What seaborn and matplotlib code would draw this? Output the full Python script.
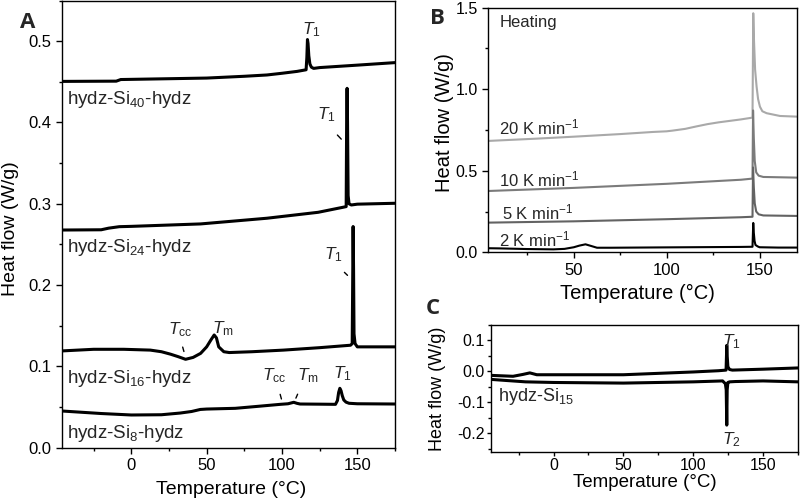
import numpy as np
import pandas as pd
import matplotlib
matplotlib.use("Agg")
import matplotlib.pyplot as plt
import seaborn as sns
from matplotlib.ticker import MultipleLocator, FormatStrFormatter

# ---------------- Panel A data (heat flow, W/g vs temperature, °C) ----------------
a_si40_T = [-46, -10, -7, 25, 50, 75, 90, 100, 110, 116.0, 116.5, 116.9, 117.3, 117.8, 118.5, 119.5, 121, 125, 150, 175]
a_si40_v = [0.4505, 0.4508, 0.4528, 0.4538, 0.4546, 0.4568, 0.4584, 0.4605, 0.4628, 0.4648, 0.480, 0.502, 0.497,
            0.482, 0.472, 0.468, 0.4665, 0.4675, 0.4705, 0.4736]

a_si24_T = [-46, -20, -15, -8, 0, 46, 90, 124, 140, 142.6, 142.9, 143.2, 143.5, 143.9, 144.5, 146, 150, 175]
a_si24_v = [0.2677, 0.2680, 0.2700, 0.2718, 0.2722, 0.2752, 0.2822, 0.2895, 0.2955, 0.2965, 0.40, 0.442, 0.40,
            0.31, 0.300, 0.2985, 0.2995, 0.3006]

a_si16_T = [-46, -25, -5, 12.6, 20, 26, 31, 36, 41, 46, 50, 53, 55, 56.5, 58, 61.4, 65, 80, 101, 125, 145.5, 146.6,
            146.9, 147.2, 147.5, 147.8, 148.5, 150, 175]
a_si16_v = [0.119, 0.121, 0.121, 0.120, 0.118, 0.115, 0.112, 0.1087, 0.111, 0.116, 0.124, 0.133, 0.1386, 0.135,
            0.124, 0.118, 0.117, 0.118, 0.120, 0.123, 0.126, 0.128, 0.20, 0.272, 0.22, 0.14, 0.128, 0.124, 0.124]

a_si8_T = [-46, -20, 0, 20, 32.5, 40, 45.8, 50, 69, 85, 98.9, 104, 107.8, 110, 112, 125, 135.5, 136.8, 137.6, 138.4,
           139.2, 140, 141, 142.5, 144.5, 150, 175]
a_si8_v = [0.0451, 0.042, 0.0402, 0.0405, 0.0426, 0.0445, 0.047, 0.0475, 0.0484, 0.051, 0.0533, 0.054, 0.0558,
           0.0545, 0.0537, 0.0535, 0.0533, 0.058, 0.068, 0.073, 0.070, 0.064, 0.0587, 0.056, 0.0546, 0.054, 0.0537]

a_labels = [r"hydz-Si$_{40}$-hydz", r"hydz-Si$_{24}$-hydz", r"hydz-Si$_{16}$-hydz", r"hydz-Si$_{8}$-hydz"]
a_label_pos = [(-43, 0.428), (-43, 0.246), (-43, 0.085), (-43, 0.018)]

# ---------------- Panel B data ----------------
b2_T = [4, 10, 25, 39, 45, 50, 53, 56.3, 59, 62.5, 70, 96.6, 140, 146.2, 146.6, 146.9, 147.3, 147.8, 149, 150, 160, 170]
b2_v = [0.025, 0.024, 0.020, 0.018, 0.021, 0.031, 0.041, 0.049, 0.040, 0.028, 0.028, 0.030, 0.033, 0.034, 0.18,
        0.12, 0.07, 0.045, 0.036, 0.031, 0.029, 0.029]

b5_T = [4, 50, 100, 140, 146.2, 146.5, 146.9, 147.4, 148.2, 149.5, 152, 170]
b5_v = [0.182, 0.190, 0.203, 0.215, 0.218, 0.52, 0.40, 0.30, 0.25, 0.233, 0.226, 0.223]

b10_T = [4, 50, 100, 140, 146.2, 146.5, 146.9, 147.4, 148.2, 149.5, 152, 170]
b10_v = [0.376, 0.395, 0.420, 0.445, 0.452, 0.87, 0.70, 0.56, 0.49, 0.47, 0.462, 0.458]

b20_T = [4, 30, 50, 75, 92.6, 100, 103, 110, 116, 122, 128, 140, 146.2, 146.6, 147.0, 147.6, 148.4, 149.2, 150.2,
         151.5, 153.8, 161, 170]
b20_v = [0.683, 0.697, 0.709, 0.725, 0.738, 0.742, 0.746, 0.757, 0.772, 0.786, 0.797, 0.815, 0.826, 1.466, 1.30,
         1.12, 1.016, 0.94, 0.893, 0.865, 0.853, 0.836, 0.832]

b_rate_labels = [r"20 K min$^{-1}$", r"10 K min$^{-1}$", r"5 K min$^{-1}$", r"2 K min$^{-1}$"]
b_rate_pos = [(10, 0.765), (10, 0.445), (11.5, 0.245), (10, 0.08)]

# ---------------- Panel C data ----------------
c_heat_T = [-45, -29, -22, -17, -12, 0, 50, 100, 118, 123.5, 123.8, 124.0, 124.3, 124.8, 126, 128, 150, 175]
c_heat_v = [-0.013, -0.016, -0.010, -0.005, -0.011, -0.011, -0.011, -0.002, 0.002, 0.004, 0.05, 0.084, 0.05,
            0.015, 0.006, 0.004, 0.007, 0.011]

c_cool_T = [-45, -20, 0, 50, 100, 121, 123, 123.6, 124.0, 124.3, 124.8, 126, 130, 150, 175]
c_cool_v = [-0.026, -0.034, -0.036, -0.038, -0.034, -0.031, -0.040, -0.06, -0.174, -0.06, -0.036, -0.034,
            -0.033, -0.031, -0.034]

# ---------------- Style ----------------
sns.set_theme(style="ticks")
plt.rcParams.update({
    "font.family": ["Liberation Sans", "DejaVu Sans"],
    "mathtext.fontset": "custom",
    "mathtext.rm": "Liberation Sans",
    "mathtext.it": "Liberation Sans:italic",
    "mathtext.bf": "Liberation Sans:bold",
    "axes.unicode_minus": False,
    "axes.linewidth": 1.0,
    "axes.edgecolor": "black",
    "xtick.direction": "out",
    "ytick.direction": "out",
    "xtick.major.size": 4,
    "ytick.major.size": 4,
    "xtick.minor.size": 2.5,
    "ytick.minor.size": 2.5,
    "xtick.major.width": 1.0,
    "ytick.major.width": 1.0,
    "xtick.minor.width": 1.0,
    "ytick.minor.width": 1.0,
    "xtick.color": "black",
    "ytick.color": "black",
    "xtick.labelsize": 12,
    "ytick.labelsize": 12,
    "axes.labelcolor": "black",
})

fig = plt.figure(figsize=(8, 5.03), dpi=100)
axA = fig.add_axes([0.0775, 0.110, 0.41625, 0.889])
axB = fig.add_axes([0.6104, 0.4984, 0.3855, 0.4863])
axC = fig.add_axes([0.6134, 0.102, 0.3841, 0.2519])

for ax in (axA, axB, axC):
    for s in ax.spines.values():
        s.set_visible(True)
        s.set_color("black")
        s.set_linewidth(1.0)

# ---- Panel A ----
lwA = 2.2
for T, v in [(a_si40_T, a_si40_v), (a_si24_T, a_si24_v), (a_si16_T, a_si16_v), (a_si8_T, a_si8_v)]:
    sns.lineplot(x=T, y=v, ax=axA, color="black", lw=lwA, estimator=None, sort=False)
axA.set_xlim(-46, 175)
axA.set_ylim(0, 0.55)
axA.xaxis.set_major_locator(MultipleLocator(50))
axA.xaxis.set_minor_locator(MultipleLocator(25))
axA.yaxis.set_major_locator(MultipleLocator(0.1))
axA.yaxis.set_minor_locator(MultipleLocator(0.05))
axA.yaxis.set_major_formatter(FormatStrFormatter("%.1f"))
axA.set_xlabel("Temperature (°C)", fontsize=14)
axA.set_ylabel("Heat flow (W/g)", fontsize=14)
axA.xaxis.set_label_coords(0.509, -0.075)
axA.yaxis.set_label_coords(-0.128, 0.49)
for lab, (x, y) in zip(a_labels, a_label_pos):
    axA.text(x, y, lab, fontsize=13.5, ha="left", va="center")

ann_fs = 12.5
axA.text(119.5, 0.514, r"$T_1$", fontsize=ann_fs, ha="center", va="center")
axA.text(129.5, 0.410, r"$T_1$", fontsize=ann_fs, ha="center", va="center")
axA.annotate("", xy=(140.6, 0.377), xytext=(135.5, 0.387), arrowprops=dict(arrowstyle="-", lw=1, color="black"))
axA.text(134, 0.238, r"$T_1$", fontsize=ann_fs, ha="center", va="center")
axA.annotate("", xy=(144.8, 0.2096), xytext=(140.1, 0.218), arrowprops=dict(arrowstyle="-", lw=1, color="black"))
axA.text(32.5, 0.145, r"$T_{\mathrm{cc}}$", fontsize=ann_fs, ha="center", va="center")
axA.annotate("", xy=(35.4, 0.115), xytext=(33.6, 0.127), arrowprops=dict(arrowstyle="-", lw=1, color="black"))
axA.text(61, 0.147, r"$T_{\mathrm{m}}$", fontsize=ann_fs, ha="center", va="center")
axA.text(95, 0.089, r"$T_{\mathrm{cc}}$", fontsize=ann_fs, ha="center", va="center")
axA.annotate("", xy=(100.1, 0.0566), xytext=(98.3, 0.0689), arrowprops=dict(arrowstyle="-", lw=1, color="black"))
axA.text(117, 0.089, r"$T_{\mathrm{m}}$", fontsize=ann_fs, ha="center", va="center")
axA.annotate("", xy=(108.5, 0.0578), xytext=(111.1, 0.0689), arrowprops=dict(arrowstyle="-", lw=1, color="black"))
axA.text(140, 0.091, r"$T_1$", fontsize=ann_fs, ha="center", va="center")

# ---- Panel B ----
lwB = 1.5
b_colors = ["#a9a9a9", "#7b7b7b", "#636363", "black"]
for (T, v), c in zip([(b20_T, b20_v), (b10_T, b10_v), (b5_T, b5_v), (b2_T, b2_v)], b_colors):
    sns.lineplot(x=T, y=v, ax=axB, color=c, lw=lwB, estimator=None, sort=False)
axB.set_xlim(4, 170)
axB.set_ylim(0, 1.5)
axB.xaxis.set_major_locator(MultipleLocator(50))
axB.xaxis.set_minor_locator(MultipleLocator(25))
axB.yaxis.set_major_locator(MultipleLocator(0.5))
axB.yaxis.set_minor_locator(MultipleLocator(0.25))
axB.yaxis.set_major_formatter(FormatStrFormatter("%.1f"))
axB.tick_params(axis="y", labelsize=11.5)
axB.set_xlabel("Temperature (°C)", fontsize=14.5)
axB.set_ylabel("Heat flow (W/g)", fontsize=14.5)
axB.xaxis.set_label_coords(0.482, -0.128)
axB.yaxis.set_label_coords(-0.11, 0.53)
axB.text(10, 1.41, "Heating", fontsize=12, ha="left", va="center")
for lab, (x, y) in zip(b_rate_labels, b_rate_pos):
    axB.text(x, y, lab, fontsize=12, ha="left", va="center")

# ---- Panel C ----
lwC = 2.2
sns.lineplot(x=c_heat_T, y=c_heat_v, ax=axC, color="black", lw=lwC, estimator=None, sort=False)
sns.lineplot(x=c_cool_T, y=c_cool_v, ax=axC, color="black", lw=lwC, estimator=None, sort=False)
axC.set_xlim(-45, 175)
axC.set_ylim(-0.26, 0.15)
axC.xaxis.set_major_locator(MultipleLocator(50))
axC.xaxis.set_minor_locator(MultipleLocator(25))
axC.yaxis.set_major_locator(MultipleLocator(0.1))
axC.yaxis.set_minor_locator(MultipleLocator(0.05))
axC.yaxis.set_major_formatter(FormatStrFormatter("%.1f"))
axC.tick_params(axis="both", which="major", length=3, pad=1.5, labelsize=11.5)
axC.tick_params(axis="both", which="minor", length=2)
axC.set_xlabel("Temperature (°C)", fontsize=13.5)
axC.set_ylabel("Heat flow (W/g)", fontsize=13)
axC.xaxis.set_label_coords(0.5, -0.175)
axC.yaxis.set_label_coords(-0.145, 0.5)
axC.text(-40, -0.083, r"hydz-Si$_{15}$", fontsize=13, ha="left", va="center")
axC.text(127, 0.095, r"$T_1$", fontsize=ann_fs, ha="center", va="center")
axC.text(127, -0.222, r"$T_2$", fontsize=ann_fs, ha="center", va="center")

# Panel letters
fig.text(28 / 800, 1 - 23 / 503, "A", fontsize=16, fontweight="bold", family="Open Sans", ha="center", va="center")
fig.text(437 / 800, 1 - 18 / 503, "B", fontsize=16, fontweight="bold", family="Open Sans", ha="center", va="center")
fig.text(433 / 800, 1 - 308 / 503, "C", fontsize=16, fontweight="bold", family="Open Sans", ha="center", va="center")

fig.savefig("out.png", dpi=100)
